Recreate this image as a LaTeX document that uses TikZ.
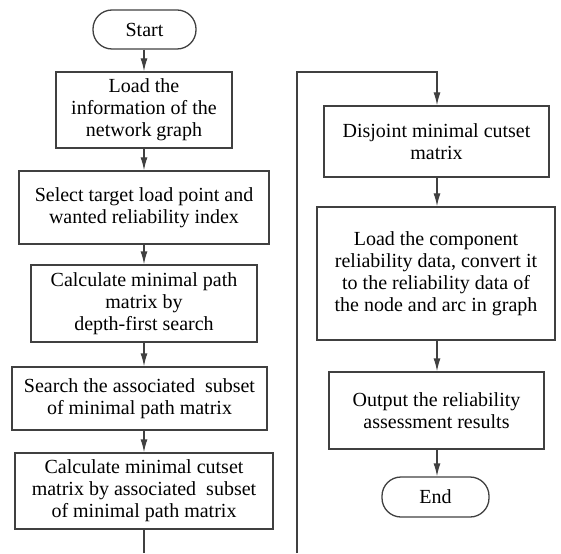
\documentclass[tikz,border=0pt]{standalone}
\usepackage{fontspec}
\setmainfont{Liberation Serif}
\usetikzlibrary{arrows.meta}
\begin{document}
\begin{tikzpicture}[x=1pt,y=-1pt,
  line width=1.3pt,
  every node/.style={font=\fontsize{20}{22}\selectfont, text=black, align=center, inner sep=0pt},
  box/.style={draw=black!75, rectangle},
  term/.style={draw=black!75, rectangle, rounded corners=19pt},
  arr/.style={draw=black!75, -{Latex[length=13pt,width=7pt]}},
  ln/.style={draw=black!75}]
\useasboundingbox (0,0) rectangle (561,553);

% left column
\node[term, minimum width=103pt, minimum height=39pt] (start) at (144.5,29.5) {Start};
\node[box, minimum width=176pt, minimum height=76pt] (n1) at (144,110) {Load the\\information of the\\network graph};
\node[box, minimum width=250pt, minimum height=73pt] (n2) at (144,207.5) {Select target load point and\\wanted reliability index};
\node[box, minimum width=226pt, minimum height=77pt] (n3) at (144,303.5) {Calculate minimal path\\matrix by\\depth-first search};
\node[box, minimum width=255pt, minimum height=63pt] (n4) at (139.5,398.5) {Search the associated\ \ subset\\of minimal path matrix};
\node[box, minimum width=258pt, minimum height=76pt] (n5) at (144,491) {Calculate minimal cutset\\matrix by associated\ \ subset\\of minimal path matrix};

% right column
\node[box, minimum width=225pt, minimum height=71pt] (n6) at (436.5,141.5) {Disjoint minimal cutset\\matrix};
\node[box, minimum width=238pt, minimum height=133pt] (n7) at (436,273.5) {Load the component\\reliability data, convert it\\to the reliability data of\\the node and arc in graph};
\node[box, minimum width=215pt, minimum height=77pt] (n8) at (436.5,410.5) {Output the reliability\\assessment results};
\node[term, minimum width=107pt, minimum height=40pt] (end) at (435.5,497) {End};

% connector points
\coordinate (lb) at (144,553);
\coordinate (rb) at (297,553);
\coordinate (turn) at (437,72);

% connectors
\draw[arr] (start.south -| 144,0) -- (n1.north -| 144,0);
\draw[arr] (n1.south -| 144,0) -- (n2.north -| 144,0);
\draw[arr] (n2.south -| 144,0) -- (n3.north -| 144,0);
\draw[arr] (n3.south -| 144,0) -- (n4.north -| 144,0);
\draw[arr] (n4.south -| 144,0) -- (n5.north -| 144,0);
\draw[ln] (n5.south -| 144,0) -- (lb);
\draw[arr] (rb) |- (turn) -- (n6.north -| turn);
\draw[arr] (n6.south -| turn) -- (n7.north -| turn);
\draw[arr] (n7.south -| turn) -- (n8.north -| turn);
\draw[arr] (n8.south -| turn) -- (end.north -| turn);
\end{tikzpicture}
\end{document}
